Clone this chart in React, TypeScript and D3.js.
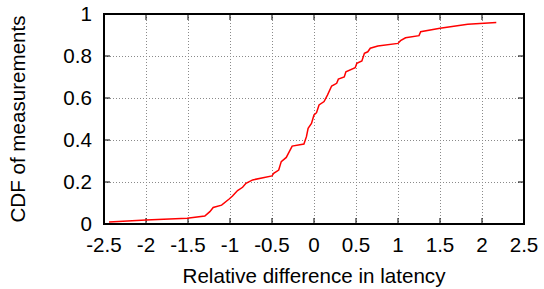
import React from "react";
import * as d3 from "d3";

const xTicks = [-2.5, -2, -1.5, -1, -0.5, 0, 0.5, 1, 1.5, 2, 2.5];
const yTicks = [0, 0.2, 0.4, 0.6, 0.8, 1];
const xTickLabels = ["-2.5", "-2", "-1.5", "-1", "-0.5", "0", "0.5", "1", "1.5", "2", "2.5"];
const yTickLabels = ["0", "0.2", "0.4", "0.6", "0.8", "1"];

const cdfX = [-2.44, -2.0, -1.51, -1.30, -1.24, -1.20, -1.10, -1.01, -0.97, -0.91, -0.85, -0.81, -0.73, -0.50, -0.48, -0.42, -0.39, -0.33, -0.26, -0.12, -0.09, -0.07, -0.03, 0.0, 0.03, 0.06, 0.12, 0.16, 0.21, 0.27, 0.29, 0.36, 0.38, 0.49, 0.51, 0.57, 0.60, 0.64, 0.67, 0.76, 1.0, 1.03, 1.09, 1.25, 1.27, 1.50, 1.83, 2.17];
const cdfY = [0.010, 0.019, 0.027, 0.038, 0.059, 0.079, 0.090, 0.119, 0.133, 0.159, 0.175, 0.194, 0.210, 0.229, 0.241, 0.257, 0.297, 0.317, 0.371, 0.381, 0.416, 0.456, 0.479, 0.519, 0.530, 0.567, 0.583, 0.614, 0.657, 0.670, 0.690, 0.700, 0.725, 0.744, 0.765, 0.776, 0.813, 0.820, 0.837, 0.848, 0.860, 0.873, 0.887, 0.897, 0.916, 0.932, 0.951, 0.959];

const W = 544;
const H = 289;
const L = 104, R = 524, T = 14, B = 224;
const FONT = "'Liberation Sans', Arial, sans-serif";
const FS = 20.6;

export default function App() {
  const x = d3.scaleLinear().domain([-2.5, 2.5]).range([L, R]);
  const y = d3.scaleLinear().domain([0, 1]).range([B, T]);
  const pts: [number, number][] = cdfX.map((v, i) => [v, cdfY[i]]);
  const line = d3.line<[number, number]>().x((d) => x(d[0])).y((d) => y(d[1]));
  const tick = 6;
  return (
    <svg width={W} height={H} style={{ position: "absolute", left: 0, top: 0 }} fontFamily={FONT}>
      <rect x={0} y={0} width={W} height={H} fill="#fff" />
      {xTicks.slice(1, -1).map((t) => (
        <line key={"gx" + t} x1={x(t) + 0.5} x2={x(t) + 0.5} y1={T} y2={B} stroke="#8a8a8a" strokeWidth={1} strokeDasharray="1,2" />
      ))}
      {yTicks.slice(1, -1).map((t) => (
        <line key={"gy" + t} x1={L} x2={R} y1={Math.round(y(t)) + 0.5} y2={Math.round(y(t)) + 0.5} stroke="#8a8a8a" strokeWidth={1} strokeDasharray="1,2" />
      ))}
      {xTicks.map((t) => (
        <g key={"tx" + t}>
          <line x1={x(t)} x2={x(t)} y1={B} y2={B - tick} stroke="#000" strokeWidth={1} />
          <line x1={x(t)} x2={x(t)} y1={T} y2={T + tick} stroke="#000" strokeWidth={1} />
        </g>
      ))}
      {yTicks.map((t) => (
        <g key={"ty" + t}>
          <line x1={L} x2={L + tick} y1={y(t)} y2={y(t)} stroke="#000" strokeWidth={1} />
          <line x1={R} x2={R - tick} y1={y(t)} y2={y(t)} stroke="#000" strokeWidth={1} />
        </g>
      ))}
      <path d={line(pts) || ""} fill="none" stroke="#ff0000" strokeWidth={1.5} />
      <rect x={L} y={T} width={R - L} height={B - T} fill="none" stroke="#000" strokeWidth={2} />
      {xTicks.map((t, i) => (
        <text key={"lx" + t} x={x(t)} y={252} textAnchor="middle" fontSize={FS} fill="#000">
          {xTickLabels[i]}
        </text>
      ))}
      {yTicks.map((t, i) => (
        <text key={"ly" + t} x={92} y={y(t) + 7} textAnchor="end" fontSize={FS} fill="#000">
          {yTickLabels[i]}
        </text>
      ))}
      <text x={(L + R) / 2} y={283} textAnchor="middle" fontSize={FS} fill="#000">
        Relative difference in latency
      </text>
      <text transform={`translate(25,${(T + B) / 2}) rotate(-90)`} textAnchor="middle" fontSize={FS} fill="#000">
        CDF of measurements
      </text>
    </svg>
  );
}
